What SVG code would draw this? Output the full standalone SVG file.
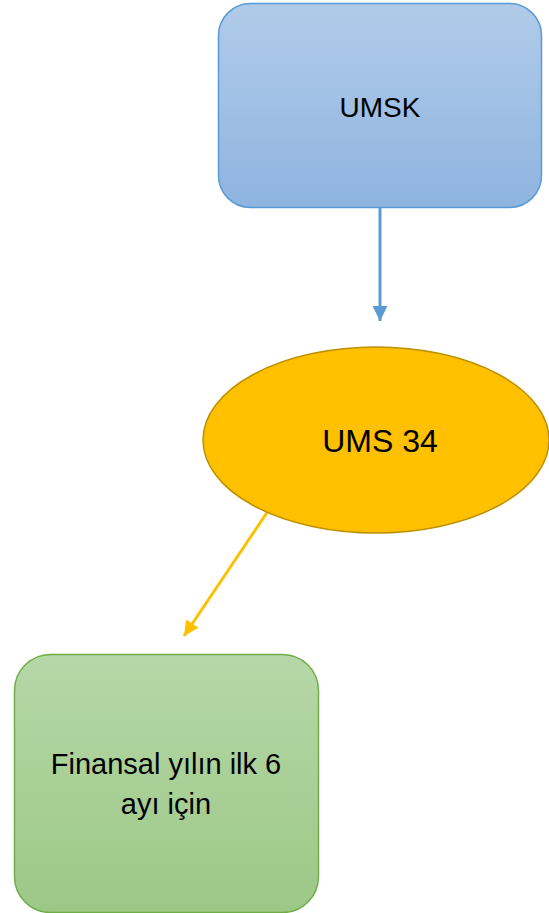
<svg xmlns="http://www.w3.org/2000/svg" width="549" height="913" viewBox="0 0 549 913">
<style>
text{font-family:"Liberation Sans",Arial,sans-serif;fill:#000;text-anchor:middle}
</style>
<defs>
<linearGradient id="gb" x1="0" y1="0" x2="0" y2="1"><stop offset="0" stop-color="#b0cbe9"/><stop offset="1" stop-color="#8fb4e0"/></linearGradient>
<linearGradient id="gg" x1="0" y1="0" x2="0" y2="1"><stop offset="0" stop-color="#b6d7a8"/><stop offset="1" stop-color="#9cc886"/></linearGradient>
<marker id="ab" viewBox="0 0 10 10" refX="10" refY="5" markerWidth="5" markerHeight="5" orient="auto" markerUnits="strokeWidth"><path d="M0,0L10,5L0,10Z" fill="#5b9bd5"/></marker>
<marker id="ay" viewBox="0 0 10 10" refX="10" refY="5" markerWidth="5" markerHeight="5" orient="auto" markerUnits="strokeWidth"><path d="M0,0L10,5L0,10Z" fill="#ffc000"/></marker>
</defs>
<g id="connectors" fill="none" stroke-width="3">
<line x1="380" y1="207" x2="380" y2="321" stroke="#5b9bd5" marker-end="url(#ab)"/>
<line x1="268" y1="511" x2="184" y2="636" stroke="#ffc000" marker-end="url(#ay)"/>
</g>
<g id="umsk">
<rect x="218.5" y="3.5" width="323" height="204" rx="32" fill="url(#gb)" stroke="#5b9bd5" stroke-width="1.5"/>
<text x="380" y="117" font-size="28">UMSK</text>
</g>
<g id="ums34">
<ellipse cx="376" cy="440" rx="173" ry="93" fill="#ffc000" stroke="#bf9000" stroke-width="1.5"/>
<text x="380" y="452" font-size="32">UMS 34</text>
</g>
<g id="finansal">
<rect x="14.5" y="654.5" width="304" height="258" rx="36" fill="url(#gg)" stroke="#70ad47" stroke-width="1.5"/>
<text x="166" y="774" font-size="29">Finansal yılın ilk 6</text>
<text x="166" y="814" font-size="29">ayı için</text>
</g>
</svg>
